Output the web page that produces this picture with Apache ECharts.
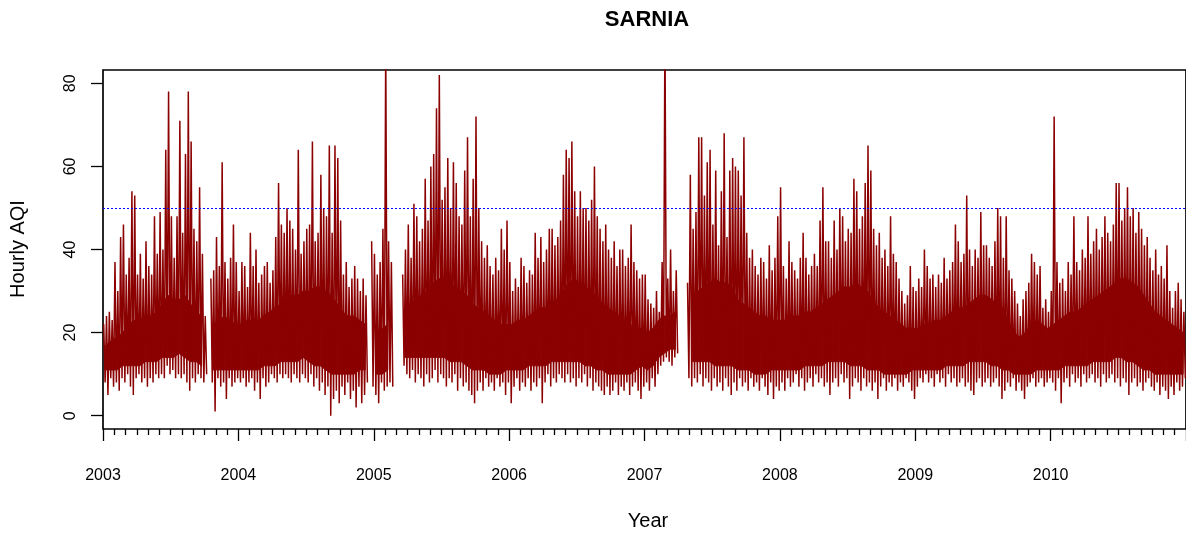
<!DOCTYPE html>
<html>
<head>
<meta charset="utf-8">
<script src="https://cdn.jsdelivr.net/npm/echarts@6/dist/echarts.min.js"></script>
<style>
html,body{margin:0;padding:0;background:#fff;}
#chart{width:1186px;height:535px;}
</style>
</head>
<body>
<div id="chart"></div>
<script>
// ---- values ----
const YEARS = [2003, 2004, 2005, 2006, 2007, 2008, 2009, 2010];
const Y_TICKS = [0, 20, 40, 60, 80];
const X_LABEL_YEARS = [2003, 2004, 2005, 2006, 2007, 2008, 2009, 2010];
const THRESHOLD = 50;

// spike tops / troughs, 4 samples per month
const hi2003 = [22,24,25,23, 37,30,43,46, 34,38,54,53, 34,39,33,42, 36,34,48,39, 49,40,64,78, 48,38,48,71, 44,63,78,66, 45,42,55,39, 24,null,33,35, 43,36,61,37, 33,38,46,37];
const lo2003 = [8,5,9,7, 8,6,9,8, 10,7,5,9, 10,8,9,7, 9,8,10,9, 10,9,12,10, 11,9,10,9, 10,8,6,9, 8,10,9,8, 10,null,8,1, 9,7,8,4, 9,7,8,9];
const hi2004 = [30,37,36,31, 44,36,40,32, 34,36,37,32, 35,43,56,46, 44,50,47,45, 40,64,39,42, 45,46,66,42, 44,58,50,48, 65,44,65,62, 47,34,37,31, 33,36,33,30, 33,29,null,42];
const lo2004 = [8,9,7,8, 9,6,8,4, 9,7,8,10, 9,8,10,9, 10,9,8,10, 9,8,10,9, 8,10,7,9, 6,8,5,7, 0,4,6,3, 7,5,8,4, 6,2,7,3, 5,8,null,7];
const hi2005 = [39,34,37,45, 90,42,37,null, null,null,34,40, 46,38,51,48, 42,45,57,47, 60,63,74,82, 52,55,62,50, 61,56,48,46, 59,67,48,57, 72,50,42,38, 41,36,34,38, 35,45,40,47];
const lo2005 = [5,3,8,6, 7,8,7,null, null,null,12,10, 9,11,8,10, 9,7,10,8, 9,11,8,10, 9,7,9,8, 10,6,9,7, 8,6,5,3, 6,8,6,9, 7,8,6,9, 7,8,5,8];
const hi2006 = [37,30,33,31, 38,36,32,35, 34,44,38,43, 37,40,45,45, 41,43,47,58, 64,62,66,54, 48,54,50,50, 47,52,60,48, 45,42,46,40, 38,42,36,40, 40,36,38,46, 37,35,33,34];
const lo2006 = [3,7,9,6, 8,7,9,6, 8,7,9,3, 8,10,7,9, 8,10,9,8, 10,8,9,7, 9,8,10,7, 9,6,8,7, 6,5,7,5, 6,8,5,7, 6,8,5,7, 8,6,4,7];
const hi2007 = [34,28,27,26, 30,25,37,95, 33,40,30,35, null,null,null,32, 58,45,49,67, 67,53,61,64, 46,59,41,54, 68,43,59,62, 60,59,53,67, 44,38,40,36, 34,38,37,33, 41,35,38,48];
const lo2007 = [8,6,9,7, 10,12,13,14, 13,12,14,15, null,null,null,9, 7,9,8,10, 7,9,8,6, 9,7,8,6, 9,7,5,8, 6,9,7,8, 6,9,7,8, 6,9,7,5, 8,4,7,6];
const hi2008 = [55,36,33,42, 37,35,33,38, 44,38,34,36, 39,36,47,55, 42,42,38,47, 40,50,48,42, 45,44,57,54, 45,48,56,65, 59,45,41,44, 38,40,36,48, 39,37,33,30, 27,29,36,31];
const lo2008 = [8,6,9,7, 8,10,7,9, 6,8,9,7, 10,8,9,7, 8,5,8,9, 7,10,8,9, 4,7,9,8, 6,9,7,8, 6,8,4,7, 9,6,8,7, 9,6,8,7, 9,8,6,4];
const hi2009 = [30,33,31,40, 36,33,34,31, 34,32,38,33, 35,37,46,42, 37,39,53,40, 36,40,38,49, 41,41,38,36, 42,50,48,38, 48,35,33,30, 27,24,28,30, 32,39,37,34, 36,26,28,25];
const lo2009 = [7,9,8,10, 8,9,7,10, 8,9,7,10, 8,9,7,8, 9,7,8,6, 5,8,9,7, 8,9,7,8, 9,7,4,6, 8,7,9,6, 8,6,4,7, 8,9,7,8, 9,7,8,9];
const hi2010 = [30,72,37,32, 33,30,37,34, 48,37,35,40, 38,48,39,42, 45,40,43,48, 44,42,46,56, 56,47,50,55, 48,50,44,49, 45,41,43,38, 35,40,34,36, 33,41,30,26, 30,32,28,25];
const lo2010 = [8,6,9,3, 8,9,7,10, 8,9,7,10, 8,9,10,8, 9,7,10,8, 9,10,8,9, 7,9,8,5, 8,9,7,8, 6,8,9,7, 6,8,5,7, 6,4,7,5, 8,6,7,9];

// dense core band (top / bottom), 2 samples per month
const coreTop2003 = [17,18, 19,20, 22,23, 23,24, 24,25, 27,29, 28,28, 29,27, 25,24, null,22, 23,24, 23,22];
const coreBot2003 = [11,11, 11,12, 12,12, 12,13, 13,13, 14,14, 14,15, 14,13, 13,12, null,11, 11,11, 11,11];
const coreTop2004 = [22,23, 23,23, 24,25, 26,27, 28,29, 29,30, 30,31, 31,30, 29,27, 25,24, 24,23, 22,null];
const coreBot2004 = [11,11, 11,11, 12,12, 12,13, 13,13, 13,14, 13,12, 12,11, 10,10, 10,10, 10,11, 11,null];
const coreTop2005 = [20,21, 22,null, null,26, 27,28, 29,30, 32,33, 33,32, 31,30, 29,27, 26,25, 24,23, 22,22];
const coreBot2005 = [10,10, 11,null, null,14, 14,14, 14,14, 14,14, 14,13, 13,13, 12,11, 11,11, 10,10, 10,11];
const coreTop2006 = [22,23, 23,24, 25,26, 26,27, 28,30, 32,33, 32,31, 30,29, 27,26, 25,24, 23,22, 21,21];
const coreBot2006 = [11,11, 11,12, 12,12, 12,13, 13,13, 13,13, 13,12, 12,11, 11,10, 10,10, 10,10, 11,12];
const coreTop2007 = [20,21, 23,24, 24,25, null,null, 29,30, 31,32, 33,32, 32,31, 28,27, 26,25, 24,24, 23,23];
const coreBot2007 = [11,12, 14,15, 16,16, null,null, 13,13, 13,13, 12,12, 12,12, 11,11, 11,10, 10,10, 11,11];
const coreTop2008 = [23,23, 24,24, 25,25, 26,27, 28,29, 30,31, 31,32, 31,30, 28,26, 25,24, 23,22, 21,21];
const coreBot2008 = [11,11, 11,11, 12,12, 12,12, 13,13, 13,13, 12,12, 12,11, 11,11, 10,10, 10,10, 10,11];
const coreTop2009 = [21,22, 22,23, 23,24, 25,26, 26,27, 28,29, 29,28, 27,26, 23,20, 19,20, 22,23, 22,21];
const coreBot2009 = [11,11, 11,11, 11,12, 12,12, 12,13, 13,13, 13,12, 12,11, 11,10, 10,10, 10,11, 11,11];
const coreTop2010 = [22,23, 24,25, 25,26, 27,28, 29,30, 31,32, 33,33, 32,31, 29,27, 25,24, 23,22, 21,20];
const coreBot2010 = [11,11, 12,12, 12,12, 12,13, 13,13, 13,14, 14,13, 13,12, 11,11, 10,10, 10,10, 10,10];

const HI = [hi2003, hi2004, hi2005, hi2006, hi2007, hi2008, hi2009, hi2010];
const LO = [lo2003, lo2004, lo2005, lo2006, lo2007, lo2008, lo2009, lo2010];
const CT = [coreTop2003, coreTop2004, coreTop2005, coreTop2006, coreTop2007, coreTop2008, coreTop2009, coreTop2010];
const CB = [coreBot2003, coreBot2004, coreBot2005, coreBot2006, coreBot2007, coreBot2008, coreBot2009, coreBot2010];

// zigzag line points
const points = [];
// core samples in time order
const coreSamples = [];
YEARS.forEach(function (yr, k) {
  const hi = HI[k], lo = LO[k], n = hi.length;
  for (let i = 0; i < n; i++) {
    points.push([yr + (i + 0.25) / n, hi[i]]);
    points.push([yr + (i + 0.75) / n, lo[i]]);
  }
  const ct = CT[k], cb = CB[k], m = ct.length;
  for (let j = 0; j < m; j++) {
    coreSamples.push([yr + (j + 0.5) / m, ct[j], cb[j]]);
  }
});
// band segments between consecutive valid core samples
const coreSegs = [];
for (let j = 0; j + 1 < coreSamples.length; j++) {
  const a = coreSamples[j], b = coreSamples[j + 1];
  if (a[1] != null && a[2] != null && b[1] != null && b[2] != null) {
    coreSegs.push([a[0], a[1], a[2], b[0], b[1], b[2]]);
  }
}

const RED = '#8B0000';
const FONT = 'Liberation Sans, Arial, Helvetica, sans-serif';
const chart = echarts.init(document.getElementById('chart'), null, {renderer: 'canvas'});
chart.setOption({
  animation: false,
  backgroundColor: '#ffffff',
  grid: {left: 103, right: -8, top: 70, bottom: 106, show: true, borderColor: '#000', borderWidth: 1.7, backgroundColor: 'transparent'},
  xAxis: {
    type: 'value', min: 2003, max: 2011, interval: 1,
    axisLine: {show: false, onZero: false},
    axisTick: {show: true, inside: false, length: 12, lineStyle: {color: '#000', width: 1.3}},
    minorTick: {show: true, splitNumber: 12, length: 6, lineStyle: {color: '#000', width: 1.3}},
    splitLine: {show: false},
    axisLabel: {show: true, margin: 39, fontSize: 16, color: '#000', fontFamily: FONT,
      customValues: X_LABEL_YEARS, formatter: function (v) { return String(Math.round(v)); }}
  },
  yAxis: {
    type: 'value', min: -3.2, max: 83.2,
    axisLine: {show: false, onZero: false},
    axisTick: {show: true, inside: false, length: 12, customValues: Y_TICKS, lineStyle: {color: '#000', width: 1.3}},
    splitLine: {show: false},
    axisLabel: {show: true, rotate: 90, margin: 24, fontSize: 16, color: '#000', fontFamily: FONT, customValues: Y_TICKS}
  },
  graphic: [
    {type: 'text', x: 647, y: 20, style: {text: 'SARNIA', font: 'bold 22px ' + FONT, fill: '#000', align: 'center', verticalAlign: 'middle', textAlign: 'center', textVerticalAlign: 'middle'}},
    {type: 'text', x: 648, y: 521, style: {text: 'Year', font: '20px ' + FONT, fill: '#000', align: 'center', verticalAlign: 'middle', textAlign: 'center', textVerticalAlign: 'middle'}},
    {type: 'text', x: 18.5, y: 249, rotation: Math.PI / 2, style: {text: 'Hourly AQI', font: '20px ' + FONT, fill: '#000', align: 'center', verticalAlign: 'middle', textAlign: 'center', textVerticalAlign: 'middle'}}
  ],
  series: [
    {
      name: 'core', type: 'custom', data: coreSegs, silent: true, z: 1,
      encode: {x: [0, 3], y: [1, 2, 4, 5]},
      renderItem: function (params, api) {
        const p1 = api.coord([api.value(0), api.value(1)]);
        const p2 = api.coord([api.value(3), api.value(4)]);
        const p3 = api.coord([api.value(3), api.value(5)]);
        const p4 = api.coord([api.value(0), api.value(2)]);
        return {type: 'polygon', shape: {points: [p1, p2, p3, p4]},
          style: {fill: RED, stroke: RED, lineWidth: 0.8}};
      }
    },
    {
      name: 'AQI', type: 'line', data: points,
      showSymbol: false, symbol: 'none', connectNulls: false, clip: true,
      lineStyle: {color: RED, width: 1.5},
      itemStyle: {color: RED}, z: 2,
      markLine: {
        silent: true, symbol: 'none', animation: false,
        label: {show: false},
        lineStyle: {color: '#0000ff', type: [2, 2], width: 1},
        data: [{yAxis: THRESHOLD}]
      }
    }
  ]
});
</script>
</body>
</html>
